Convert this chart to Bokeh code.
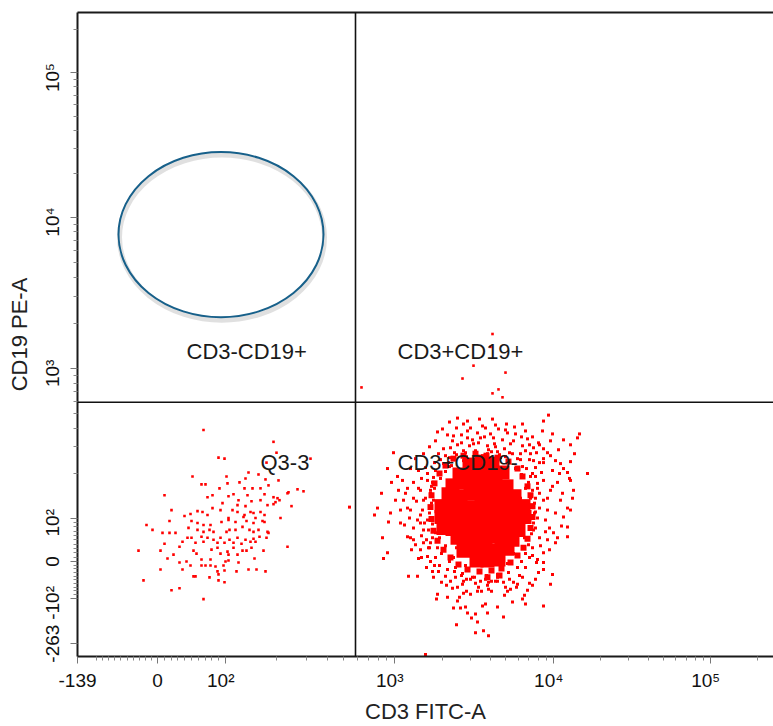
import math
from bokeh.plotting import figure
from bokeh.models import FixedTicker, LinearAxis, Span, Range1d, ColumnDataSource
from bokeh.embed import file_html
from bokeh.resources import INLINE
from bokeh.core.properties import value

# ---- axis definition (biexponential display, in display channels) ----
x_tick_pos = [0, 80, 148, 317, 476, 633]
x_tick_labels = ["-139", "0", "10\u00b2", "10\u00b3", "10\u2074", "10\u2075"]
y_tick_pos = [13, 59, 96, 140, 291, 444, 590]
y_tick_labels = ["-263", "-10\u00b2", "0", "10\u00b2", "10\u00b3", "10\u2074", "10\u2075"]
x_title = "CD3 FITC-A"
y_title = "CD19 PE-A"

# quadrant gate position (display channels)
gate_x = 278
gate_y = 257

# ellipse gate (display channels)
ell_cx, ell_cy, ell_w, ell_h = 143.5, 426.5, 205, 167

quad_names = ["CD3-CD19+", "CD3+CD19+", "Q3-3", "CD3+CD19-"]
quad_x = [109, 320, 183, 320]
quad_y = [308, 308, 196, 196]

# ---- events (CD3, CD19) in display channels ----
q3_events = [
    (126,229),(196,217),(199,206),(141,201),(147,200),(233,200),(189,196),(171,186),(181,184),
    (115,182),(149,182),(168,180),(188,179),(201,178),(124,174),(128,174),(150,175),(162,176),
    (191,173),(142,170),(175,170),(167,170),(183,170),(220,169),(226,167),(211,166),(210,165),
    (87,163),(135,163),(130,161),(151,162),(156,164),(170,163),(187,164),(196,161),(200,160),
    (161,158),(174,157),(183,158),(198,156),(202,158),(214,152),(160,153),(168,152),(190,153),
    (196,154),(145,155),(135,150),(94,148),(120,147),(125,146),(143,148),(155,148),(160,146),
    (167,143),(173,146),(176,145),(183,146),(187,143),(107,142),(113,144),(130,143),(151,140),
    (166,141),(178,140),(203,140),(69,133),(92,137),(114,137),(120,135),(126,133),(133,133),
    (144,136),(151,138),(158,136),(169,137),(176,135),(185,137),(187,136),(75,128),(85,125),
    (92,125),(98,125),(111,130),(120,128),(126,126),(132,128),(136,126),(149,126),(152,128),
    (158,128),(165,131),(172,128),(176,126),(181,128),(190,126),(191,125),(110,120),(114,120),
    (124,121),(130,120),(136,118),(143,120),(152,118),(160,120),(168,118),(176,119),(182,121),
    (189,120),(87,114),(105,116),(118,115),(126,116),(140,115),(147,115),(156,115),(164,114),
    (173,116),(178,116),(210,111),(61,107),(83,107),(102,111),(116,107),(134,108),(140,110),
    (150,106),(156,110),(165,107),(169,107),(174,110),(186,107),(96,103),(119,104),(143,104),
    (151,103),(160,103),(90,99),(102,95),(109,96),(124,98),(133,98),(148,96),(151,97),(161,95),
    (177,99),(113,92),(124,92),(128,92),(133,92),(138,91),(146,92),(83,88),(105,88),(140,86),
    (147,87),(159,86),(171,88),(179,88),(188,86),(116,81),(118,81),(132,80),(141,83),(141,77),
    (66,77),(102,69),(94,67),(147,75),(126,58),
]

q4_dense_events = [
    (392,194),(404,197),(415,195),
    (382,184),(393,187),(403,185),(414,184),(425,186),
    (375,173),(386,176),(396,174),(407,173),(418,175),(429,172),
    (371,164),(382,162),(393,165),(404,163),(415,162),(426,164),(437,162),
    (364,152),(372,151),(383,153),(394,151),(405,152),(416,150),(427,153),(438,151),(446,152),
    (364,141),(373,142),(384,140),(395,141),(406,143),(417,141),(428,140),(439,142),(447,141),
    (366,130),(375,129),(386,131),(397,130),(408,129),(419,131),(430,130),(441,128),
    (380,120),(391,118),(402,119),(413,121),(424,119),(435,118),
    (386,107),(397,109),(408,108),(419,107),(430,109),
    (399,97),(410,97),(421,98),
]

q4_edge_events = [
    (376,200),(386,203),(398,205),(409,203),(420,201),(431,197),(440,190),(445,182),
    (368,193),(362,185),(357,175),(354,163),(353,151),(354,139),(356,127),(360,117),
    (366,108),(373,100),(381,93),(390,88),(402,86),(414,87),(424,89),(433,95),(440,102),
    (446,110),(450,119),(453,130),(455,141),(455,152),(453,163),(450,172),(410,80),(422,82),
]

q4_events = [
    (471,244),(380,241),(402,240),(466,238),(386,235),(418,234),(445,235),(393,231),(408,231),
    (421,230),(429,235),(360,227),(400,226),(413,225),(430,226),(438,225),(465,228),(475,225),
    (502,225),(376,223),(390,221),(403,221),(416,221),(425,219),(450,220),(461,216),(473,218),
    (486,219),(500,221),(493,214),(384,216),(396,215),(410,213),(433,215),(445,213),(456,211),
    (466,210),(481,209),(373,211),(386,208),(316,206),(361,205),(443,205),(453,205),(473,203),
    (497,205),(493,197),(483,195),(466,196),(456,198),(371,196),(348,191),(341,188),(458,191),
    (475,188),(490,186),(510,185),(314,176),(325,178),(336,176),(350,178),(466,178),(480,176),
    (493,178),(321,168),(330,170),(343,168),(460,170),(473,168),(485,165),(496,168),(318,158),
    (326,158),(336,160),(346,158),(466,158),(483,158),(297,143),(313,145),(323,148),(333,148),
    (343,143),(470,148),(486,141),(493,148),
    (368,203),(377,206),(389,202),(398,208),(405,203),(414,207),(423,201),(432,206),(440,200),
    (448,208),(452,199),(380,214),(392,213),(418,212),(427,210),(401,216),(363,199),(372,192),
    (445,192),(350,185),(354,172),(348,160),(352,150),(350,138),(346,128),(355,120),(352,110),
    (358,100),(362,92),(370,88),(378,80),(386,76),(455,185),(460,175),(458,160),(462,150),
    (460,140),(456,128),(462,120),(455,110),(452,100),(448,90),(442,82),(436,75),(398,74),
    (410,72),(420,76),(428,70),(404,66),(380,70),
    (311,136),(323,135),(327,133),(343,135),(330,121),(333,120),(338,113),(334,108),(310,105),
    (306,99),(346,115),(351,110),(350,101),(341,99),(331,81),(340,81),(355,86),(361,86),
    (368,81),(373,76),(375,69),(385,73),(393,78),(403,76),(411,75),(418,76),(426,75),(433,68),
    (440,73),(450,67),(458,78),(466,88),(473,73),(475,83),(478,115),(490,121),(490,131),
    (468,126),(476,125),(460,98),(455,102),(466,105),(360,63),(359,58),(380,56),(386,64),
    (393,63),(400,66),(408,53),(405,51),(411,68),(430,66),(445,58),(448,53),(466,51),(376,49),
    (383,49),(388,50),(394,39),(398,43),(400,35),(426,40),(379,32),(398,24),(406,26),(411,21),
    (366,210),(375,218),(384,224),(395,219),(407,222),(417,215),(436,218),(444,222),(452,214),
    (459,206),(370,224),(390,228),(411,209),(430,198),(400,201),(422,204),(386,198),(357,196),
    (462,196),(379,231),(344,180),(341,170),(339,157),(345,148),(340,138),(347,135),(344,122),
    (351,128),(356,181),(353,165),(349,118),(343,108),(357,92),(353,96),(336,130),(332,140),
    (328,165),(458,182),(464,186),(470,160),(468,138),(472,130),(463,112),(459,95),(470,118),
    (478,145),(475,172),(482,185),(466,200),(457,145),(462,165),(384,82),(395,80),(408,78),
    (420,80),(432,78),(445,80),(377,86),(389,66),(401,70),(414,66),(427,62),(439,70),(369,72),
    (452,74),(348,2),(272,151),
    (372,201),(379,204),(388,206),(397,203),(410,205),(420,207),(428,202),(435,205),(443,199),
    (366,195),(449,190),(453,182),(358,188),(355,176),(353,168),(356,158),(352,145),(355,134),
    (358,125),(353,115),(360,110),(364,104),(357,170),(354,155),(451,176),(455,168),(457,155),
    (458,146),(456,135),(454,124),(451,113),(448,104),(444,96),(453,160),(458,130),(372,96),
    (378,90),(385,84),(397,80),(409,82),(420,83),(431,85),(440,90),(389,78),(414,76),
    (363,180),(368,187),(374,193),(438,190),(444,184),(448,170),(362,120),(368,112),(376,100),
    (388,92),(440,115),(436,104),(430,94),(379,110),(371,150),(367,160),(447,120),(443,160),
    (333,190),(338,200),(346,205),(352,212),(358,218),(365,230),(372,237),(390,238),(405,233),
    (415,240),(428,229),(437,232),(448,228),(455,222),(462,214),(470,206),(478,198),(486,190),
    (492,180),(495,160),(490,150),(484,132),(480,120),(472,108),(466,95),(461,85),(455,72),
    (447,62),(435,55),(420,50),(410,44),(390,44),(382,60),(370,60),(364,75),(356,80),(349,90),
    (344,100),(336,118),(330,150),(320,182),(310,190),(304,165),(300,150),(305,120),
]

q2_events = [
    (415,326),(413,313),(396,294),(385,281),(428,287),(421,270),(415,266),(425,262),(284,272),
]

# ---- tick helpers (axis scale) ----
def decade_minors(p0, p1):
    return [p0 + math.log10(k) * (p1 - p0) for k in range(2, 10)]

x_minor = [80 - 0.61 * v for v in range(10, 101, 10)]
x_minor += [80 + 0.68 * v for v in range(10, 100, 10)]
x_minor += decade_minors(148, 317) + decade_minors(317, 476) + decade_minors(476, 633)
x_minor += [633 + math.log10(2) * 157]

y_minor = [96 - 0.37 * v for v in range(10, 100, 10)]
y_minor += [96 + 0.44 * v for v in range(10, 100, 10)]
y_minor += decade_minors(140, 291) + decade_minors(291, 444) + decade_minors(444, 590)
y_minor += [590 + math.log10(2) * 146]

FONT = "Liberation Sans"
PAD = "\u2002"   # invisible trailing space: puts "10" beside the tick like the original

def padded(lab):
    return lab + PAD if lab.startswith("10") or lab.startswith("-10") else lab

p = figure(width=773, height=726, x_range=Range1d(0, 696), y_range=Range1d(0, 651),
           output_backend="svg", toolbar_location=None,
           min_border_left=77, min_border_right=0, min_border_top=12, min_border_bottom=63,
           x_axis_label=x_title, y_axis_label=y_title)
p.grid.visible = False
p.outline_line_color = None
p.background_fill_color = "white"
p.border_fill_color = "white"

p.xaxis.ticker = FixedTicker(ticks=x_tick_pos, minor_ticks=x_minor)
p.xaxis.major_label_overrides = {pos: padded(lab) for pos, lab in zip(x_tick_pos, x_tick_labels)}
p.yaxis.ticker = FixedTicker(ticks=y_tick_pos, minor_ticks=y_minor)
p.yaxis.major_label_overrides = {pos: padded(lab) for pos, lab in zip(y_tick_pos, y_tick_labels)}
p.yaxis.major_label_orientation = "parallel"

for ax in (p.xaxis, p.yaxis):
    ax.axis_line_width = 2
    ax.axis_line_color = "#1a1a1a"
    ax.major_tick_out = 7
    ax.major_tick_in = 0
    ax.minor_tick_out = 4
    ax.minor_tick_in = 0
    ax.major_tick_line_color = "#777777"
    ax.minor_tick_line_color = "#888888"
    ax.major_label_text_font = FONT
    ax.major_label_text_font_size = "19px"
    ax.major_label_text_color = "#111111"
    ax.axis_label_text_font = FONT
    ax.axis_label_text_font_size = "22px"
    ax.axis_label_text_font_style = "normal"
    ax.axis_label_text_color = "#222222"
p.xaxis.major_label_standoff = 6
p.xaxis.axis_label_standoff = 5
p.yaxis.major_label_standoff = 7
p.yaxis.axis_label_standoff = 8

top = LinearAxis(ticker=FixedTicker(ticks=[]), axis_line_width=2, axis_line_color="#1a1a1a",
                 major_label_text_font_size="0px", major_label_standoff=0,
                 major_tick_line_color=None, minor_tick_line_color=None)
p.add_layout(top, "above")

# gate lines
p.add_layout(Span(location=gate_x, dimension="height", line_color="#111111", line_width=1.6))
p.add_layout(Span(location=gate_y, dimension="width", line_color="#111111", line_width=1.6))

# events
def split(ev):
    return [e[0] for e in ev], [e[1] for e in ev]

qx, qy = split(q3_events)
p.scatter(qx, qy, marker="square", size=2.6, fill_color="#ff0000", line_color=None)
rx, ry = split(q4_events)
p.scatter(rx, ry, marker="square", size=3, fill_color="#ff0000", line_color=None)
ex, ey = split(q4_edge_events)
p.scatter(ex, ey, marker="square", size=6, fill_color="#ff0000", line_color=None)
dx, dy = split(q4_dense_events)
p.scatter(dx, dy, marker="square", size=14, fill_color="#ff0000", line_color=None)
sx, sy = split(q2_events)
p.scatter(sx, sy, marker="square", size=2.6, fill_color="#ff0000", line_color=None)

# ellipse gate with soft shadow
p.ellipse(x=[ell_cx + 1], y=[ell_cy - 3], width=ell_w, height=ell_h, fill_color=None,
          line_color="#bbbbbb", line_alpha=0.45, line_width=5)
p.ellipse(x=[ell_cx], y=[ell_cy], width=ell_w, height=ell_h, fill_color=None,
          line_color="#17608a", line_width=2)

# quadrant names
src = ColumnDataSource(dict(x=quad_x, y=quad_y, t=quad_names))
p.text(x="x", y="y", text="t", source=src, text_font=value(FONT), text_font_size="22px",
       text_align="left", text_baseline="middle", text_color="#1a1a1a")

open("out.html", "w").write(file_html(p, INLINE))
